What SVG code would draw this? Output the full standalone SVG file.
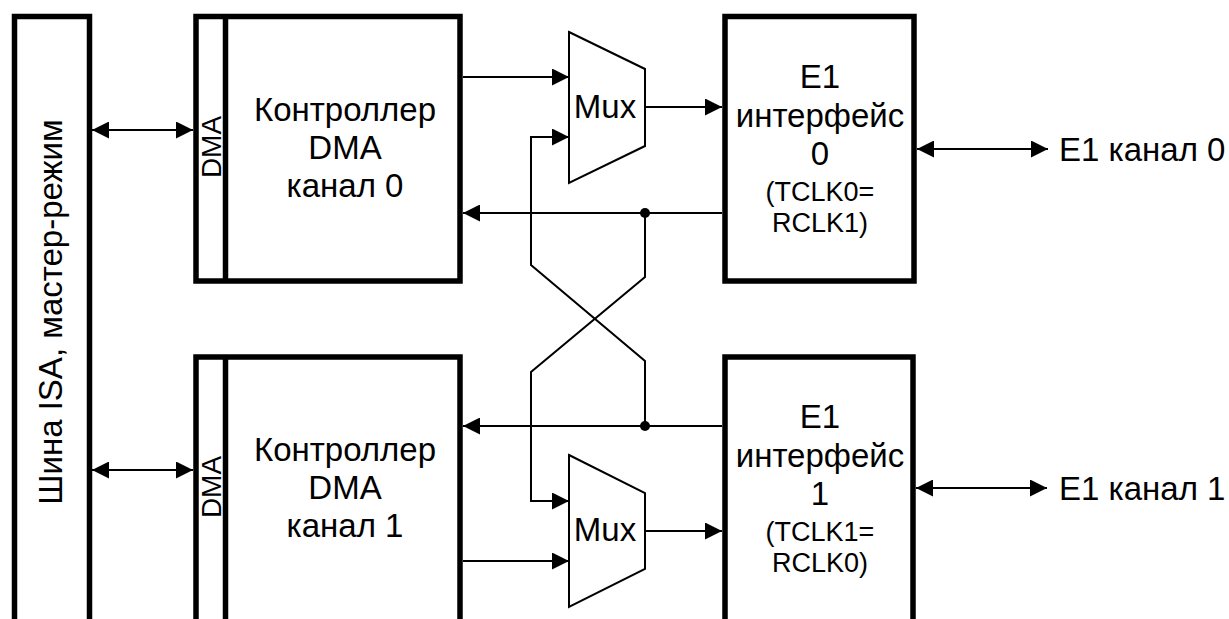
<svg xmlns="http://www.w3.org/2000/svg" width="1229" height="619" viewBox="0 0 1229 619">
<style>
.box{fill:#fff;stroke:#000;stroke-width:5.5}
.mux{fill:#fff;stroke:#000;stroke-width:2}
.ln{fill:none;stroke:#000;stroke-width:2}
.t{font-family:"Liberation Sans",Arial,sans-serif;font-size:33px;fill:#000;text-anchor:middle}
.s{font-family:"Liberation Sans",Arial,sans-serif;font-size:27px;fill:#000;text-anchor:middle}
.d{font-family:"Liberation Sans",Arial,sans-serif;font-size:28px;fill:#000;text-anchor:middle}
.l{font-family:"Liberation Sans",Arial,sans-serif;font-size:33px;fill:#000}
</style>
<defs>
<marker id="ah" markerUnits="userSpaceOnUse" markerWidth="18" markerHeight="17" refX="17" refY="8.5" orient="auto-start-reverse">
<path d="M0,0 L17,8.5 L0,17 z" fill="#000"/>
</marker>
</defs>
<rect width="1229" height="619" fill="#fff"/>
<g id="isa">
<rect class="box" x="14.5" y="16.5" width="75" height="700"/>
<text class="l" transform="translate(62,312) rotate(-90)" text-anchor="middle">Шина ISA, мастер-режим</text>
</g>
<g id="dma0">
<rect class="box" x="196" y="16.5" width="264" height="264.5"/>
<line x1="225.5" y1="16.5" x2="225.5" y2="281" stroke="#000" stroke-width="5.5"/>
<text class="d" transform="translate(221,147) rotate(-90)">DMA</text>
<text class="t" x="345" y="121">Контроллер</text>
<text class="t" x="345" y="159">DMA</text>
<text class="t" x="345" y="197">канал 0</text>
</g>
<g id="dma1">
<rect class="box" x="196" y="357" width="264" height="400"/>
<line x1="225.5" y1="357" x2="225.5" y2="619" stroke="#000" stroke-width="5.5"/>
<text class="d" transform="translate(221,487) rotate(-90)">DMA</text>
<text class="t" x="345" y="461">Контроллер</text>
<text class="t" x="345" y="499">DMA</text>
<text class="t" x="345" y="537">канал 1</text>
</g>
<g id="mux0">
<polygon class="mux" points="569,32 645,69 645,146 569,183"/>
<text class="t" x="605" y="118">Mux</text>
</g>
<g id="mux1">
<polygon class="mux" points="569,455 645,493 645,569 569,607"/>
<text class="t" x="605" y="541">Mux</text>
</g>
<g id="e1_0">
<rect class="box" x="725" y="16.5" width="189" height="264.5"/>
<text class="t" x="820" y="88">E1</text>
<text class="t" x="820" y="127">интерфейс</text>
<text class="t" x="820" y="165">0</text>
<text class="s" x="820" y="201">(TCLK0=</text>
<text class="s" x="820" y="232">RCLK1)</text>
</g>
<g id="e1_1">
<rect class="box" x="725" y="357" width="188" height="400"/>
<text class="t" x="820" y="428">E1</text>
<text class="t" x="820" y="467">интерфейс</text>
<text class="t" x="820" y="505">1</text>
<text class="s" x="820" y="541">(TCLK1=</text>
<text class="s" x="820" y="572">RCLK0)</text>
</g>
<g id="ch0"><text class="l" x="1059" y="161">E1 канал 0</text></g>
<g id="ch1"><text class="l" x="1059" y="500">E1 канал 1</text></g>
<g id="connectors">
<line class="ln" x1="92" y1="130" x2="193" y2="130" marker-start="url(#ah)" marker-end="url(#ah)"/>
<line class="ln" x1="92" y1="470" x2="193" y2="470" marker-start="url(#ah)" marker-end="url(#ah)"/>
<line class="ln" x1="463" y1="77" x2="569" y2="77" marker-end="url(#ah)"/>
<line class="ln" x1="645" y1="107" x2="722" y2="107" marker-end="url(#ah)"/>
<line class="ln" x1="722" y1="213" x2="463" y2="213" marker-end="url(#ah)"/>
<polyline class="ln" points="645,213 645,277 531,372 531,501 569,501" marker-end="url(#ah)"/>
<polyline class="ln" points="645,426 645,361 531,265 531,137 569,137" marker-end="url(#ah)"/>
<line class="ln" x1="722" y1="426" x2="463" y2="426" marker-end="url(#ah)"/>
<line class="ln" x1="463" y1="561" x2="569" y2="561" marker-end="url(#ah)"/>
<line class="ln" x1="645" y1="531" x2="722" y2="531" marker-end="url(#ah)"/>
<line class="ln" x1="917" y1="149" x2="1048" y2="149" marker-start="url(#ah)" marker-end="url(#ah)"/>
<line class="ln" x1="916" y1="488" x2="1047" y2="488" marker-start="url(#ah)" marker-end="url(#ah)"/>
<circle cx="645" cy="213" r="5" fill="#000"/>
<circle cx="645" cy="426" r="5" fill="#000"/>
</g>
</svg>
